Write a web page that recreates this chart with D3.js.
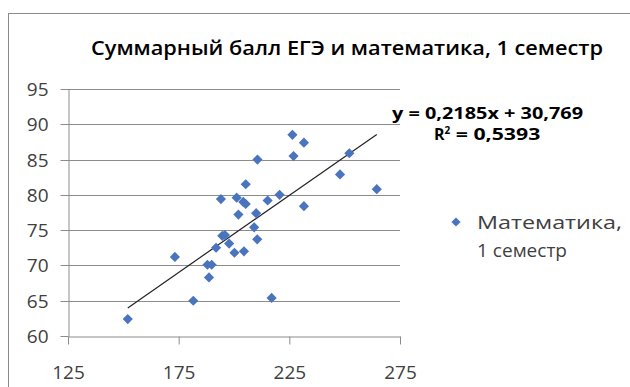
<!DOCTYPE html>
<html>
<head>
<meta charset="utf-8">
<script src="https://cdn.jsdelivr.net/npm/d3@7"></script>
<style>
  html, body { margin: 0; padding: 0; background: #fff; }
  svg { display: block; }
  text { font-family: "Open Sans", "Noto Sans", sans-serif; }
</style>
</head>
<body>
<svg id="chart" width="630" height="387"></svg>
<script>
// ---- data ----
const title = "Суммарный балл ЕГЭ и математика, 1 семестр";
const seriesName = ["Математика,", "1 семестр"];
const egeTotal = [152, 173.3, 181.6, 188.0, 189.9, 188.7, 191.9, 194.7, 195.9, 197.8,
                  200.2, 204.5, 194.1, 201.2, 204.2, 205.3, 202.0, 210.0, 209.1, 210.5,
                  205.3, 210.6, 215.2, 220.6, 217.0, 226.4, 231.6, 226.9, 231.6, 247.9,
                  252.1, 264.5];
const mathScore = [62.4, 71.2, 65.0, 70.1, 70.1, 68.3, 72.5, 74.2, 74.3, 73.1,
                   71.8, 72.0, 79.4, 79.6, 79.0, 78.7, 77.2, 77.4, 75.4, 73.7,
                   81.5, 85.0, 79.2, 80.0, 65.4, 88.5, 87.4, 85.5, 78.4, 82.9,
                   85.9, 80.8];
const xTicks = [125, 175, 225, 275];
const yTicks = [60, 65, 70, 75, 80, 85, 90, 95];
const trendSlope = 0.2185;
const trendIntercept = 30.769;
const eqLabel = "y = 0,2185x + 30,769";
const r2Value = "0,5393";

// ---- drawing ----
const svg = d3.select("#chart");
const x = d3.scaleLinear().domain([125, 275]).range([68, 400]);
const y = d3.scaleLinear().domain([60, 95]).range([336, 89]);
const gridColor = "#8c8c8c";
const labelColor = "#404040";
const markerColor = "#4a74bd";

// chart border
svg.append("rect").attr("x", 8.5).attr("y", 13.5).attr("width", 700).attr("height", 500)
  .attr("fill", "none").attr("stroke", "#8a8a8a").attr("stroke-width", 1);

// title
svg.append("text").attr("x", 91).attr("y", 48).attr("dy", "0.35em")
  .attr("font-size", 19).attr("font-weight", 600)
  .attr("textLength", 512).attr("lengthAdjust", "spacingAndGlyphs")
  .attr("fill", "#000").text(title);

// gridlines
svg.append("g").selectAll("line").data(yTicks.filter(v => v > 60)).join("line")
  .attr("x1", x(125)).attr("x2", x(275))
  .attr("y1", d => Math.round(y(d)) + 0.5).attr("y2", d => Math.round(y(d)) + 0.5)
  .attr("stroke", gridColor).attr("stroke-width", 1);

// axes
const yAxis = svg.append("g").attr("transform", `translate(${x(125) + 0.5},0)`)
  .call(d3.axisLeft(y).tickValues(yTicks).tickSize(8).tickSizeOuter(0).tickPadding(12));
const xAxis = svg.append("g").attr("transform", `translate(0,${Math.round(y(60)) + 0.5})`)
  .call(d3.axisBottom(x).tickValues(xTicks).tickSize(8).tickSizeOuter(0));
[yAxis, xAxis].forEach(g => {
  g.select(".domain").attr("stroke", gridColor);
  g.selectAll(".tick line").attr("stroke", gridColor);
  g.selectAll(".tick text").attr("fill", labelColor).attr("font-size", 19)
    .attr("font-family", "'Open Sans', sans-serif");
});
yAxis.selectAll(".tick").attr("transform", d => `translate(0,${Math.round(y(d)) + 0.5})`);
xAxis.selectAll(".tick text").attr("y", 36).attr("dy", "0.35em");

// trendline
const xMin = d3.min(egeTotal), xMax = d3.max(egeTotal);
svg.append("line")
  .attr("x1", x(xMin)).attr("y1", y(trendSlope * xMin + trendIntercept))
  .attr("x2", x(xMax)).attr("y2", y(trendSlope * xMax + trendIntercept))
  .attr("stroke", "#222").attr("stroke-width", 1.2);

// points
const diamond = d3.symbol().type(d3.symbolDiamond2).size(66);
svg.append("g").selectAll("path").data(egeTotal.map((v, i) => [v, mathScore[i]])).join("path")
  .attr("d", diamond)
  .attr("transform", d => `translate(${x(d[0])},${y(d[1])})`)
  .attr("fill", markerColor);

// equation labels
svg.append("text").attr("x", 392).attr("y", 113).attr("dy", "0.35em")
  .attr("font-size", 16).attr("font-weight", 700).attr("fill", "#000")
  .attr("textLength", 191).attr("lengthAdjust", "spacingAndGlyphs").text(eqLabel);
const r2 = svg.append("text").attr("x", 434).attr("y", 134).attr("dy", "0.35em")
  .attr("font-size", 16).attr("font-weight", 700).attr("fill", "#000");
r2.append("tspan").text("R");
r2.append("tspan").attr("font-size", 10).attr("dy", "-0.6em").text("2");
r2.append("tspan").attr("dy", "0.4em")
  .attr("textLength", 90).attr("lengthAdjust", "spacingAndGlyphs").text(" = " + r2Value);

// legend
svg.append("path").attr("d", d3.symbol().type(d3.symbolDiamond2).size(54))
  .attr("transform", "translate(456,222)").attr("fill", markerColor);
svg.append("g").selectAll("text").data(seriesName).join("text")
  .attr("x", 477).attr("y", (d, i) => 222 + i * 28).attr("dy", "0.35em")
  .attr("font-size", 19).attr("fill", labelColor)
  .attr("textLength", (d, i) => [145, 90][i]).attr("lengthAdjust", "spacingAndGlyphs")
  .text(d => d);
</script>
</body>
</html>
